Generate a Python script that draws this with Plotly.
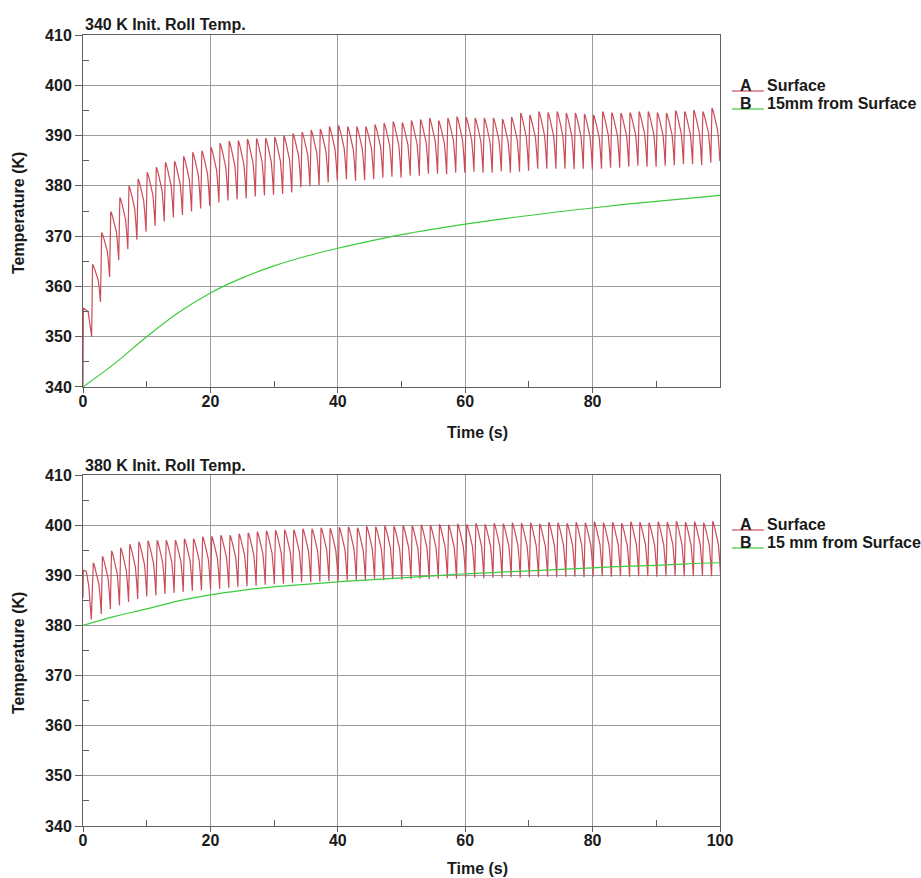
import plotly.graph_objects as go

# ---------------- data ----------------
# Surface temperature oscillates once per roll revolution.
CYCLE_PERIOD = 1.43  # s

# 340 K initial roll temperature
TOP_START_T = [0.0, 0.05, 0.8, 1.36]
TOP_START_V = [340.0, 355.7, 355.0, 350.0]
TOP_FIRST_PEAK = 1.5
TOP_PEAKS = [
    364.4, 370.7, 374.9, 377.7, 380.0, 381.4, 382.7, 383.7, 384.7, 384.9,
    385.9, 386.7, 387.0, 387.7, 388.5, 388.9, 389.0, 389.3, 389.4, 389.5,
    389.7, 390.0, 390.4, 390.7, 391.1, 391.3, 391.8, 392.0, 391.8, 391.8,
    391.8, 392.2, 392.5, 392.8, 392.6, 393.0, 393.2, 393.5, 393.0, 393.5,
    393.8, 393.7, 393.5, 393.5, 393.5, 393.3, 393.7, 394.5, 394.1, 394.8,
    394.6, 394.8, 394.5, 394.5, 394.3, 394.1, 394.8, 394.6, 394.5, 394.6,
    394.8, 394.8, 394.6, 394.5, 395.0, 394.8, 395.1, 394.8, 395.5,
]
TOP_TROUGHS = [
    356.9, 361.9, 365.2, 367.4, 369.3, 370.9, 372.0, 372.9, 373.7, 374.2,
    374.9, 375.5, 376.0, 376.7, 377.1, 377.3, 377.5, 377.9, 378.1, 378.2,
    378.4, 378.7, 379.7, 379.9, 380.1, 380.7, 381.0, 381.3, 381.0, 381.1,
    381.3, 381.6, 381.8, 381.6, 382.0, 382.0, 382.4, 382.4, 382.3, 382.6,
    382.6, 382.8, 382.6, 382.6, 382.9, 382.6, 382.8, 383.0, 383.4, 383.4,
    383.4, 383.4, 383.3, 383.4, 383.3, 383.4, 383.6, 383.6, 383.8, 384.0,
    383.8, 383.8, 384.0, 384.1, 384.3, 384.3, 384.1, 384.6, 384.9,
]
TOP_DEPTH_T = [0, 5, 10, 15, 20, 25, 30, 35, 40, 45, 50, 55, 60, 65, 70, 75, 80, 85, 90, 95, 100]
TOP_DEPTH_V = [340.0, 344.7, 350.0, 354.8, 358.7, 361.7, 364.1, 366.0, 367.6, 369.0, 370.3,
               371.4, 372.4, 373.3, 374.1, 374.9, 375.6, 376.3, 376.9, 377.5, 378.1]

# 380 K initial roll temperature
BOT_START_T = [0.0, 0.05, 0.5, 0.9, 1.3]
BOT_START_V = [385.5, 391.0, 390.8, 388.0, 381.2]
BOT_FIRST_PEAK = 1.62
BOT_PEAKS = [
    392.5, 393.8, 394.9, 395.5, 396.2, 396.7, 396.9, 397.0, 397.0, 397.0,
    397.3, 397.3, 397.7, 397.8, 398.0, 398.0, 398.3, 398.5, 398.7, 398.9,
    399.0, 399.1, 399.1, 399.3, 399.3, 399.5, 399.4, 399.6, 399.7, 399.5,
    399.8, 399.7, 399.9, 399.8, 400.0, 399.9, 400.1, 400.0, 400.2, 400.1,
    400.3, 400.2, 400.4, 400.2, 400.4, 400.3, 400.5, 400.4, 400.5, 400.3,
    400.6, 400.5, 400.4, 400.6, 400.5, 400.7, 400.5, 400.6, 400.4, 400.7,
    400.6, 400.5, 400.7, 400.6, 400.8, 400.6, 400.7, 400.5, 400.8,
]
BOT_TROUGHS = [
    382.3, 383.3, 384.0, 384.7, 385.3, 385.8, 386.0, 386.3, 386.5, 386.7,
    386.9, 387.0, 387.2, 387.3, 387.5, 387.7, 387.8, 387.9, 388.1, 388.2,
    388.3, 388.5, 388.6, 388.6, 388.7, 388.8, 388.8, 388.9, 389.0, 388.9,
    389.1, 389.0, 389.2, 389.1, 389.2, 389.3, 389.2, 389.3, 389.4, 389.3,
    389.4, 389.5, 389.4, 389.5, 389.5, 389.6, 389.5, 389.6, 389.6, 389.7,
    389.6, 389.7, 389.7, 389.6, 389.7, 389.8, 389.7, 389.8, 389.7, 389.8,
    389.8, 389.7, 389.8, 389.9, 389.8, 389.8, 389.9, 389.8, 389.7,
]
BOT_DEPTH_T = [0, 5, 10, 15, 20, 25, 30, 35, 40, 45, 50, 55, 60, 65, 70, 75, 80, 85, 90, 95, 100]
BOT_DEPTH_V = [380.0, 381.8, 383.3, 384.9, 386.1, 387.0, 387.7, 388.2, 388.7, 389.1, 389.5,
               389.9, 390.3, 390.6, 390.9, 391.2, 391.5, 391.8, 392.0, 392.3, 392.5]

X_TICKS_TOP = [0, 20, 40, 60, 80]
X_TICKS_BOT = [0, 20, 40, 60, 80, 100]
Y_TICKS = [340, 350, 360, 370, 380, 390, 400, 410]

# shape of one revolution: (fraction of period after the peak, fraction of peak-trough swing)
CYCLE_SHAPE = [(0.0, 1.0), (0.08, 0.97), (0.25, 0.86), (0.42, 0.72), (0.5, 0.69),
               (0.62, 0.58), (0.76, 0.3), (0.87, 0.0)]

RED = "#cc4b58"
GREEN = "#3ccb3c"
FONT = "Arial, 'Liberation Sans', sans-serif"


def surface_trace(start_t, start_v, first_peak, peaks, troughs):
    assert len(peaks) == len(troughs)
    xs, ys = list(start_t), list(start_v)
    for k, (pk, tr) in enumerate(zip(peaks, troughs)):
        tp = first_peak + k * CYCLE_PERIOD
        for frac_t, frac_v in CYCLE_SHAPE:
            xs.append(tp + frac_t * CYCLE_PERIOD)
            ys.append(tr + frac_v * (pk - tr))
    return xs, ys


fig = go.Figure()

tx, ty = surface_trace(TOP_START_T, TOP_START_V, TOP_FIRST_PEAK, TOP_PEAKS, TOP_TROUGHS)
bx, by = surface_trace(BOT_START_T, BOT_START_V, BOT_FIRST_PEAK, BOT_PEAKS, BOT_TROUGHS)

fig.add_trace(go.Scatter(x=tx, y=ty, mode="lines", line=dict(color=RED, width=1.2),
                         xaxis="x", yaxis="y", showlegend=False))
fig.add_trace(go.Scatter(x=TOP_DEPTH_T, y=TOP_DEPTH_V, mode="lines",
                         line=dict(color=GREEN, width=1.2, shape="spline"),
                         xaxis="x", yaxis="y", showlegend=False))
fig.add_trace(go.Scatter(x=bx, y=by, mode="lines", line=dict(color=RED, width=1.2),
                         xaxis="x2", yaxis="y2", showlegend=False))
fig.add_trace(go.Scatter(x=BOT_DEPTH_T, y=BOT_DEPTH_V, mode="lines",
                         line=dict(color=GREEN, width=1.2, shape="spline"),
                         xaxis="x2", yaxis="y2", showlegend=False))

tickfont = dict(family=FONT, size=16, color="#1a1a1a", weight="bold")
grid = "#9c9c9c"
axline = "#606060"


def xaxis_cfg(anchor, ticks):
    return dict(anchor=anchor, domain=[0, 1], range=[0, 100], tickmode="array",
                tickvals=ticks, ticks="outside", ticklen=5, tickcolor=axline,
                ticklabelstandoff=-5,
                showgrid=True, gridcolor=grid, gridwidth=1, showline=True,
                linecolor=axline, linewidth=1, mirror=True, zeroline=False,
                tickfont=tickfont,
                minor=dict(tickmode="array", tickvals=[10, 30, 50, 70, 90],
                           ticks="inside", ticklen=6, tickcolor=axline, showgrid=False))


def yaxis_cfg(anchor, domain):
    return dict(anchor=anchor, domain=domain, range=[340, 410], tickmode="array",
                tickvals=Y_TICKS, ticks="outside", ticklen=7, tickcolor=axline,
                showgrid=True, gridcolor=grid, gridwidth=1, showline=True,
                linecolor=axline, linewidth=1, mirror=True, zeroline=False,
                tickfont=tickfont,
                minor=dict(tickmode="array", tickvals=[345, 355, 365, 375, 385, 395, 405],
                           ticks="inside", ticklen=6, tickcolor=axline, showgrid=False))


TOP_DOM = [0.555, 1.0]
BOT_DOM = [0.0, 0.4437]

fig.update_layout(
    width=921, height=878,
    margin=dict(l=83, r=201, t=35, b=52),
    paper_bgcolor="white", plot_bgcolor="white",
    xaxis=xaxis_cfg("y", X_TICKS_TOP),
    yaxis=yaxis_cfg("x", TOP_DOM),
    xaxis2=xaxis_cfg("y2", X_TICKS_BOT),
    yaxis2=yaxis_cfg("x2", BOT_DOM),
)

PLOT_W = 637.0
PLOT_H = 791.0


def px_x(px):
    return (px - 83) / PLOT_W


def px_y(py):
    return (826 - py) / PLOT_H


lbl = dict(family=FONT, size=16, color="#1a1a1a", weight="bold")
ann = []
shapes = []

# panel titles
for text, py in [("340 K Init. Roll Temp.", 25), ("380 K Init. Roll Temp.", 465)]:
    ann.append(dict(text=text, x=px_x(83), y=px_y(py), xref="paper", yref="paper",
                    xanchor="left", yanchor="middle", showarrow=False, font=lbl))

# axis titles
for py in [432, 868]:
    ann.append(dict(text="Time (s)", x=px_x(478), y=px_y(py), xref="paper", yref="paper",
                    xanchor="center", yanchor="middle", showarrow=False, font=lbl))
for py in [213, 653]:
    ann.append(dict(text="Temperature (K)", x=px_x(18), y=px_y(py), xref="paper",
                    yref="paper", xanchor="center", yanchor="middle", textangle=-90,
                    showarrow=False, font=lbl))

# legend entries
legend_rows = [
    (85, "A", "Surface", RED), (103, "B", "15mm from Surface", GREEN),
    (524, "A", "Surface", RED), (542, "B", "15 mm from Surface", GREEN),
]
for py, key, text, color in legend_rows:
    shapes.append(dict(type="line", xref="paper", yref="paper",
                       x0=px_x(732), x1=px_x(764), y0=px_y(py + 6), y1=px_y(py + 6),
                       line=dict(color=color, width=1.2)))
    ann.append(dict(text=key, x=px_x(746), y=px_y(py), xref="paper", yref="paper",
                    xanchor="center", yanchor="middle", showarrow=False, font=lbl))
    ann.append(dict(text=text, x=px_x(765), y=px_y(py), xref="paper", yref="paper",
                    xanchor="left", yanchor="middle", showarrow=False, font=lbl))

fig.update_layout(annotations=ann, shapes=shapes)

fig.write_html("out.html")
